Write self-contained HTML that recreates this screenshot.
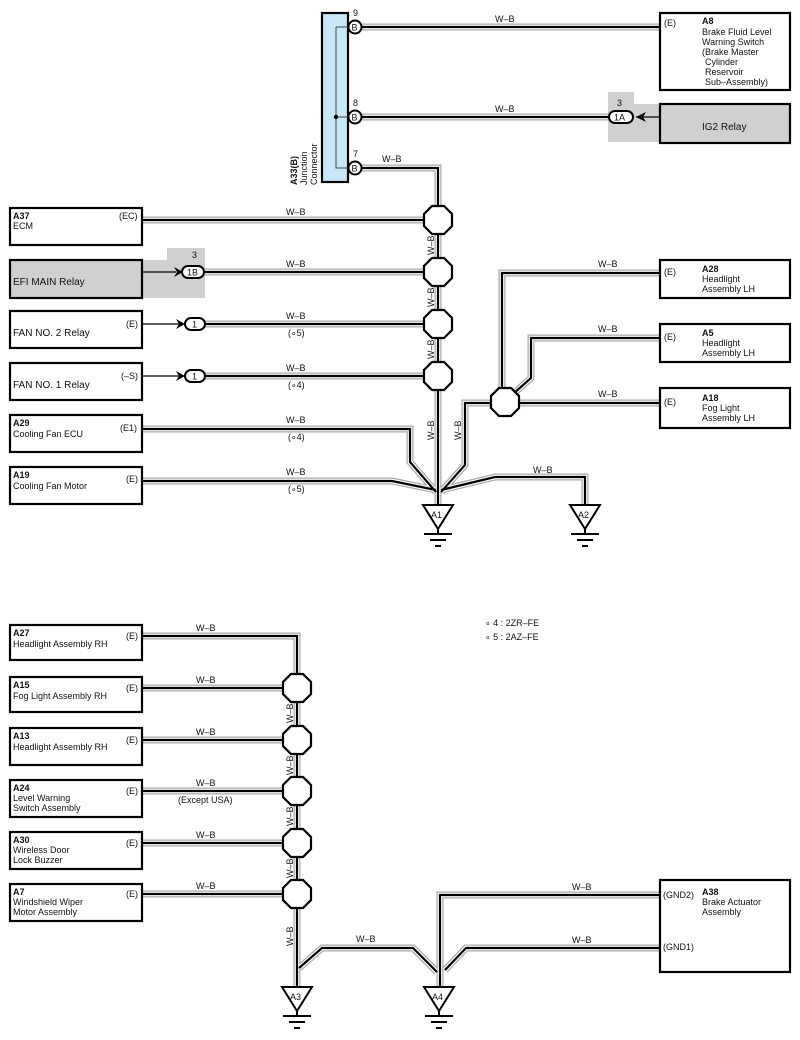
<!DOCTYPE html>
<html><head><meta charset="utf-8"><style>
body{margin:0;background:#fff}
svg{display:block;font-family:"Liberation Sans",Arial,sans-serif}
.g{fill:none;stroke:#a8a8a8;stroke-width:7}
.w{fill:none;stroke:#fff;stroke-width:4.5}
.k{fill:none;stroke:#000;stroke-width:2.2}
.box{fill:#fff;stroke:#000;stroke-width:2.2}
.gbox{fill:#d0d0d0;stroke:#000;stroke-width:2.2}
.oct{fill:#fff;stroke:#000;stroke-width:2.2}
.gnd{fill:#fff;stroke:#000;stroke-width:2}
text{font-size:9px;fill:#111}
.b{font-weight:bold}
</style></head><body>
<svg width="800" height="1040" viewBox="0 0 800 1040">
<defs>
<path id="p9" d="M362 27 H660"/>
<path id="p8" d="M362 117 H610"/>
<path id="p7" d="M362 168 H438 V220"/>
<path id="tr" d="M438 220 V505"/>
<path id="a37" d="M142 220 H426"/>
<path id="efi" d="M202 272 H426"/>
<path id="f2" d="M205 324 H426"/>
<path id="f1" d="M205 376 H426"/>
<path id="a29" d="M142 429 H410 V462 L436 492"/>
<path id="a19" d="M142 481 H392 L436 490"/>
<path id="a28" d="M660 273 H502 V390"/>
<path id="a5" d="M660 338 H531 V378 L513 394"/>
<path id="a18" d="M518 403 H660"/>
<path id="rs" d="M492 403 H465 V465 L441 492"/>
<path id="a2" d="M441 490 L495 477 H585 V505"/>
<path id="a27" d="M142 636 H297 V990"/>
<path id="a15" d="M142 688 H285"/>
<path id="a13" d="M142 740 H285"/>
<path id="a24" d="M142 791 H285"/>
<path id="a30" d="M142 843 H285"/>
<path id="a7" d="M142 894 H285"/>
<path id="bl" d="M299 968 L322 948 H413 L437 972"/>
<path id="g2" d="M660 895 H440 V990"/>
<path id="g1" d="M660 948 H466 L445 970"/>
<g id="allw"><use href="#p9"/><use href="#p8"/><use href="#p7"/><use href="#tr"/><use href="#a37"/><use href="#efi"/><use href="#f2"/><use href="#f1"/><use href="#a29"/><use href="#a19"/><use href="#a28"/><use href="#a5"/><use href="#a18"/><use href="#rs"/><use href="#a2"/><use href="#a27"/><use href="#a15"/><use href="#a13"/><use href="#a24"/><use href="#a30"/><use href="#a7"/><use href="#bl"/><use href="#g2"/><use href="#g1"/></g>
<polygon id="oc" points="-6,-14 6,-14 14,-6 14,6 6,14 -6,14 -14,6 -14,-6"/>
<g id="gd"><polygon points="-15,0 15,0 0,24"/><path d="M0 24 V29 M-14 29 H14 M-8 35 H8 M-3 41 H3" fill="none"/></g>
</defs>

<!-- shaded connector backgrounds -->
<path d="M167 248 H205 V298 H142 V260 H167 Z" fill="#d0d0d0"/>
<path d="M608 92 H634 V104 H660 V142 H608 Z" fill="#d0d0d0"/>

<g class="g"><use href="#allw"/></g>
<g class="w"><use href="#allw"/></g>
<g class="k"><use href="#allw"/></g>

<!-- junction connector -->
<rect x="322" y="13" width="26" height="169" fill="#c8e8f8" stroke="#000" stroke-width="2.2"/>
<path d="M336 27 H350 M336 27 V168 H350 M336 117 H350" fill="none" stroke="#444" stroke-width="1"/>
<circle cx="336" cy="117" r="2.2" fill="#000"/>
<g stroke="#000" stroke-width="2" fill="#fff">
<circle cx="355" cy="27" r="6.5"/><circle cx="355" cy="117" r="6.5"/><circle cx="355" cy="168" r="6.5"/></g>
<text x="351.5" y="30.5">B</text><text x="351.5" y="120.5">B</text><text x="351.5" y="171.5">B</text>
<text x="353" y="16">9</text><text x="353" y="106">8</text><text x="353" y="157">7</text>
<text transform="translate(297,185) rotate(-90)" class="b">A33(B)</text>
<text transform="translate(307,185) rotate(-90)">Junction</text>
<text transform="translate(317,185) rotate(-90)">Connector</text>

<!-- top right boxes -->
<rect class="box" x="660" y="13" width="130" height="77"/>
<text x="664" y="26">(E)</text>
<text x="702" y="24" class="b">A8</text>
<text x="702" y="35">Brake Fluid Level</text>
<text x="702" y="45">Warning Switch</text>
<text x="702" y="55">(Brake Master</text>
<text x="705" y="65">Cylinder</text>
<text x="705" y="75">Reservoir</text>
<text x="705" y="85">Sub–Assembly)</text>
<rect class="gbox" x="660" y="104" width="130" height="39"/>
<text x="702" y="130" style="font-size:10px">IG2 Relay</text>
<path d="M636 117 H660" stroke="#000" stroke-width="1.2"/>
<path d="M646 112 L636 117 L646 122 L643 117 Z" fill="#000"/>
<rect x="609" y="111" width="24" height="12" rx="6" fill="#fff" stroke="#000" stroke-width="2"/>
<text x="614" y="120.5">1A</text>
<text x="617" y="106">3</text>

<!-- left boxes top -->
<rect class="box" x="10" y="208" width="132" height="37"/>
<text x="13" y="219" class="b">A37</text><text x="13" y="229">ECM</text><text x="119" y="219">(EC)</text>
<rect class="gbox" x="10" y="260" width="132" height="38"/>
<text x="13" y="285" style="font-size:10px">EFI MAIN Relay</text>
<path d="M142 272 H176" stroke="#000" stroke-width="1.2"/>
<path d="M174 267 L183 272 L174 277 L177 272 Z" fill="#000"/>
<rect x="182" y="266" width="22" height="12" rx="6" fill="#fff" stroke="#000" stroke-width="2"/>
<text x="187" y="275.5">1B</text><text x="192" y="258">3</text>

<rect class="box" x="10" y="311" width="132" height="37"/>
<text x="13" y="336" style="font-size:10px">FAN NO. 2 Relay</text><text x="126" y="327">(E)</text>
<path d="M142 324 H182" stroke="#000" stroke-width="1.2"/>
<path d="M176 319 L185 324 L176 329 L179 324 Z" fill="#000"/>
<rect x="185" y="318" width="20" height="12" rx="6" fill="#fff" stroke="#000" stroke-width="2"/>
<text x="192" y="327.5">1</text>

<rect class="box" x="10" y="363" width="132" height="37"/>
<text x="13" y="388" style="font-size:10px">FAN NO. 1 Relay</text><text x="121" y="379">(–S)</text>
<path d="M142 376 H182" stroke="#000" stroke-width="1.2"/>
<path d="M176 371 L185 376 L176 381 L179 376 Z" fill="#000"/>
<rect x="185" y="370" width="20" height="12" rx="6" fill="#fff" stroke="#000" stroke-width="2"/>
<text x="192" y="379.5">1</text>

<rect class="box" x="10" y="415" width="132" height="37"/>
<text x="13" y="426" class="b">A29</text><text x="13" y="437">Cooling Fan ECU</text><text x="120" y="431">(E1)</text>
<rect class="box" x="10" y="467" width="132" height="37"/>
<text x="13" y="478" class="b">A19</text><text x="13" y="489">Cooling Fan Motor</text><text x="126" y="482">(E)</text>

<!-- wire labels top -->
<text x="286" y="215">W–B</text>
<text x="286" y="267">W–B</text>
<text x="286" y="319">W–B</text><text x="288" y="336">(∘5)</text>
<text x="286" y="371">W–B</text><text x="288" y="388">(∘4)</text>
<text x="286" y="423">W–B</text><text x="288" y="440">(∘4)</text>
<text x="286" y="475">W–B</text><text x="288" y="492">(∘5)</text>
<text x="495" y="22">W–B</text>
<text x="495" y="112">W–B</text>
<text x="382" y="162">W–B</text>
<text x="598" y="267">W–B</text>
<text x="598" y="332">W–B</text>
<text x="598" y="397">W–B</text>
<text x="533" y="473">W–B</text>
<text transform="translate(434,255) rotate(-90)">W–B</text>
<text transform="translate(434,307) rotate(-90)">W–B</text>
<text transform="translate(434,359) rotate(-90)">W–B</text>
<text transform="translate(434,440) rotate(-90)">W–B</text>
<text transform="translate(461,440) rotate(-90)">W–B</text>

<!-- right boxes -->
<rect class="box" x="660" y="260" width="130" height="38"/>
<text x="664" y="275">(E)</text><text x="702" y="272" class="b">A28</text><text x="702" y="282">Headlight</text><text x="702" y="292">Assembly LH</text>
<rect class="box" x="660" y="324" width="130" height="38"/>
<text x="664" y="340">(E)</text><text x="702" y="336" class="b">A5</text><text x="702" y="346">Headlight</text><text x="702" y="356">Assembly LH</text>
<rect class="box" x="660" y="388" width="130" height="40"/>
<text x="664" y="405">(E)</text><text x="702" y="401" class="b">A18</text><text x="702" y="411">Fog Light</text><text x="702" y="421">Assembly LH</text>

<!-- splices top -->
<g class="oct">
<use href="#oc" x="438" y="220"/><use href="#oc" x="438" y="272"/><use href="#oc" x="438" y="324"/><use href="#oc" x="438" y="376"/><use href="#oc" x="505" y="402"/>
</g>

<!-- grounds -->
<g class="gnd"><use href="#gd" x="438" y="505"/><use href="#gd" x="585" y="505"/><use href="#gd" x="297" y="987"/><use href="#gd" x="439" y="987"/></g>
<text x="431" y="518">A1</text><text x="578" y="518">A2</text><text x="290" y="1000">A3</text><text x="432" y="1000">A4</text>

<!-- notes -->
<text x="485" y="626">∘ 4 : 2ZR–FE</text>
<text x="485" y="640">∘ 5 : 2AZ–FE</text>

<!-- bottom left boxes -->
<rect class="box" x="10" y="625" width="132" height="35"/>
<text x="13" y="636" class="b">A27</text><text x="13" y="647">Headlight Assembly RH</text><text x="126" y="639">(E)</text>
<rect class="box" x="10" y="677" width="132" height="35"/>
<text x="13" y="688" class="b">A15</text><text x="13" y="699">Fog Light Assembly RH</text><text x="126" y="691">(E)</text>
<rect class="box" x="10" y="728" width="132" height="37"/>
<text x="13" y="739" class="b">A13</text><text x="13" y="750">Headlight Assembly RH</text><text x="126" y="743">(E)</text>
<rect class="box" x="10" y="780" width="132" height="37"/>
<text x="13" y="791" class="b">A24</text><text x="13" y="801">Level Warning</text><text x="13" y="811">Switch Assembly</text><text x="126" y="794">(E)</text>
<rect class="box" x="10" y="832" width="132" height="37"/>
<text x="13" y="843" class="b">A30</text><text x="13" y="853">Wireless Door</text><text x="13" y="863">Lock Buzzer</text><text x="126" y="846">(E)</text>
<rect class="box" x="10" y="884" width="132" height="37"/>
<text x="13" y="895" class="b">A7</text><text x="13" y="905">Windshield Wiper</text><text x="13" y="915">Motor Assembly</text><text x="126" y="897">(E)</text>

<text x="196" y="631">W–B</text>
<text x="196" y="683">W–B</text>
<text x="196" y="735">W–B</text>
<text x="196" y="786">W–B</text><text x="178" y="803">(Except USA)</text>
<text x="196" y="838">W–B</text>
<text x="196" y="889">W–B</text>
<text x="356" y="942">W–B</text>
<text x="572" y="890">W–B</text>
<text x="572" y="943">W–B</text>
<text transform="translate(293,723) rotate(-90)">W–B</text>
<text transform="translate(293,775) rotate(-90)">W–B</text>
<text transform="translate(293,826) rotate(-90)">W–B</text>
<text transform="translate(293,878) rotate(-90)">W–B</text>
<text transform="translate(293,946) rotate(-90)">W–B</text>

<g class="oct">
<use href="#oc" x="297" y="688"/><use href="#oc" x="297" y="740"/><use href="#oc" x="297" y="791"/><use href="#oc" x="297" y="843"/><use href="#oc" x="297" y="894"/>
</g>

<rect class="box" x="660" y="880" width="130" height="92"/>
<text x="663" y="898">(GND2)</text><text x="663" y="950">(GND1)</text>
<text x="702" y="895" class="b">A38</text><text x="702" y="905">Brake Actuator</text><text x="702" y="915">Assembly</text>
</svg></body></html>
